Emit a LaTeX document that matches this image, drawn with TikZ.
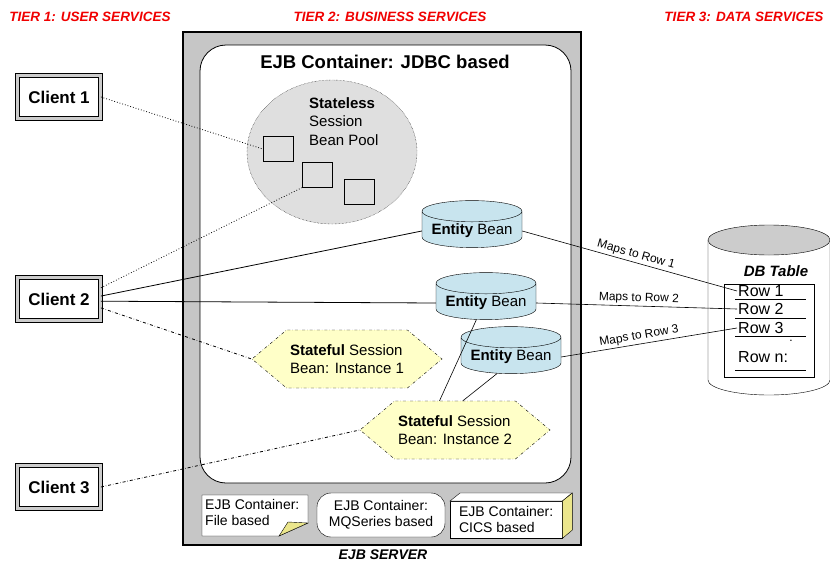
\documentclass[tikz,border=0pt]{standalone}
\usepackage{fontspec}
\setmainfont{Liberation Sans}
\usetikzlibrary{shapes.geometric,shapes.symbols,positioning}

\definecolor{tierred}{RGB}{240,0,0}
\definecolor{entityblue}{RGB}{200,228,238}
\definecolor{statefulyellow}{RGB}{255,255,200}
\definecolor{foldyellow}{RGB}{235,230,140}

\tikzset{
  tierlabel/.style={text=tierred, font=\fontsize{13.5}{16}\selectfont\bfseries\itshape},
  client/.style={draw, line width=0.8pt, double=gray!40, double distance=3.5pt, fill=white,
    minimum width=83pt, minimum height=43pt, font=\fontsize{17}{19}\selectfont\bfseries},
  poolbox/.style={draw, fill=gray!25, minimum width=30pt, minimum height=25pt},
  entity/.style={cylinder, shape border rotate=90, aspect=0.25, draw, fill=entityblue,
    minimum width=100pt, minimum height=41pt, inner sep=2pt, font=\fontsize{15}{18}\selectfont},
  stateful/.style={signal, signal to=east and west, signal pointer angle=80, draw, dash dot,
    fill=statefulyellow, minimum width=190pt, minimum height=58pt, align=left, inner sep=2pt,
    font=\fontsize{15}{18}\selectfont},
  rowtext/.style={anchor=west, inner sep=1pt, font=\fontsize{16}{18}\selectfont},
  maplabel/.style={font=\fontsize{12}{14}\selectfont, inner sep=2pt},
  container/.style={font=\fontsize{14}{16}\selectfont, align=left}
}

\begin{document}
\begin{tikzpicture}[x=1pt,y=-1pt]
\useasboundingbox (0,0) rectangle (830,565);

\node[tierlabel] (tier1) at (90,17) {TIER 1: USER SERVICES};
\node[tierlabel] (tier2) at (390,17) {TIER 2: BUSINESS SERVICES};
\node[tierlabel] (tier3) at (744,17) {TIER 3: DATA SERVICES};

\node[draw, line width=1.2pt, fill=gray!45, minimum width=398pt, minimum height=513pt] (server) at (382,288.5) {};
\node[draw, thick, fill=white, rounded corners=26pt, minimum width=371pt, minimum height=438pt] (jdbc) at (385.5,264) {};
\node[font=\fontsize{18.5}{21}\selectfont\bfseries] (jdbctitle) at (385,62) {EJB Container: JDBC based};
\node[font=\fontsize{14}{16}\selectfont\bfseries\itshape] (serverlabel) at (383,555) {EJB SERVER};

\node[ellipse, draw, densely dotted, fill=gray!25, minimum width=170pt, minimum height=144pt] (pool) at (332,152) {};
\node[align=left, anchor=north west, inner sep=0pt, font=\fontsize{15}{18.5}\selectfont] (poollabel) at (309,97) {\textbf{Stateless}\\Session\\Bean Pool};
\node[poolbox] (sq1) at (278,149) {};
\node[poolbox] (sq2) at (317,175) {};
\node[poolbox] (sq3) at (359,192) {};

\node[entity] (eb1) at (472,231) {\textbf{Entity} Bean};
\node[entity] (eb2) at (486,303) {\textbf{Entity} Bean};
\node[entity] (eb3) at (511,357) {\textbf{Entity} Bean};

\node[stateful] (hex1) at (347,359) {\textbf{Stateful} Session\\Bean: Instance 1};
\node[stateful] (hex2) at (455,430) {\textbf{Stateful} Session\\Bean: Instance 2};

\node[client] (c1) at (59,97) {Client 1};
\node[client] (c2) at (59,299) {Client 2};
\node[client] (c3) at (59,487) {Client 3};

\draw[fill=white] (708,240) -- (708,380) arc[start angle=180, end angle=0, x radius=61, y radius=15] -- (830,240);
\draw[fill=gray!40] (769,240) ellipse[x radius=61, y radius=15];
\node[minimum width=122pt, minimum height=170pt] (db) at (769,310) {};
\node[font=\fontsize{15}{18}\selectfont\bfseries\itshape] (dbtitle) at (776,271) {DB Table};
\node[draw, fill=white, minimum width=90pt, minimum height=93pt] (rows) at (769,330.5) {};
\node[rowtext] (row1) at (737,291) {Row 1};
\node[rowtext] (row2) at (737,309) {Row 2};
\node[rowtext] (row3) at (737,328) {Row 3};
\node[rowtext] (rown) at (737,357) {Row n:};
\node[inner sep=0pt, font=\fontsize{12}{14}\selectfont] (rowdots) at (791,341) {.};
\foreach \y in {299,318,336,370}
  \draw (735,\y) -- (806,\y);

\draw[fill=white] (202,495) -- (308,495) -- (308,523) -- (279,536) -- (202,536) -- cycle;
\draw[fill=foldyellow] (279,536) -- (288,522) -- (308,523) -- cycle;
\node[container, anchor=north west, inner sep=3pt] (filebox) at (202,496) {EJB Container:\\File based};
\node[container, draw, fill=white, rounded corners=14pt, align=center, minimum width=128pt, minimum height=44pt] (mqbox) at (381,515) {EJB Container:\\MQSeries based};
\node[container, draw, fill=white, anchor=north west, minimum width=112pt, minimum height=37pt] (cicsbox) at (450,501) {EJB Container:\\CICS based};
\draw[fill=white] (cicsbox.north west) -- ++(10,-8) -- ++(112,0) -- (cicsbox.north east) -- cycle;
\draw[fill=foldyellow] (cicsbox.north east) -- ++(10,-8) -- ++(0,37) -- (cicsbox.south east) -- cycle;

\draw[dotted, thick] (c1.east) -- (sq1.west);
\draw[dotted, thick] (c2.15) -- (sq2.south west);
\draw[thick] (c2.4) -- (eb1.west);
\draw[thick] (c2.-3) -- (eb2.west);
\draw[dash dot, thick] (c2.-12) -- (hex1.west);
\draw[dash dot, thick] (c3.east) -- (hex2.west);
\draw[semithick] (hex2.118) -- (eb2.240);
\draw[semithick] (hex2.75) -- (eb3.230);

\draw[semithick] (eb1.east) -- node[maplabel, sloped, above, pos=0.52] (map1) {Maps to Row 1} (row1.west);
\draw[semithick] (eb2.east) -- node[maplabel, sloped, above, pos=0.51] (map2) {Maps to Row 2} (row2.west);
\draw[semithick] (eb3.east) -- node[maplabel, sloped, above, pos=0.45] (map3) {Maps to Row 3} (row3.west);
\end{tikzpicture}
\end{document}
